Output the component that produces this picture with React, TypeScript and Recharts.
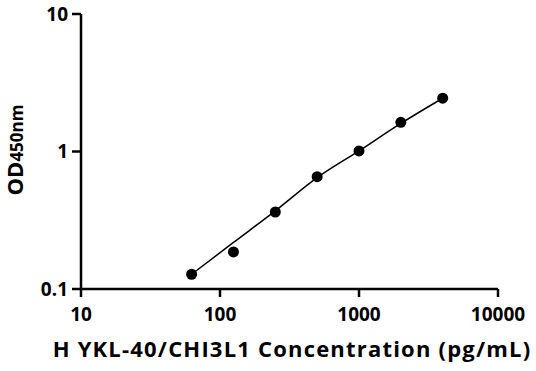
import { ComposedChart, Scatter, Line, XAxis, YAxis } from 'recharts';

// standard concentrations (pg/mL) and measured OD450
const concentrations = [62.5, 125, 250, 500, 1000, 2000, 4000];
const odValues = [0.128, 0.186, 0.363, 0.656, 1.01, 1.63, 2.44];

// fitted curve at the same concentrations
const fitConcentrations = [62.5, 125, 250, 500, 1000, 2000, 4000];
const fitValues = [0.128, 0.218, 0.37, 0.645, 1.01, 1.6, 2.44];

const xTicks = [10, 100, 1000, 10000];
const yTicks = [0.1, 1, 10];

const points = concentrations.map((x, i) => ({ x, y: odValues[i] }));
const fit = fitConcentrations.map((x, i) => ({ x, fy: fitValues[i] }));

const FONT = '"Open Sans", "Noto Sans", sans-serif';

const Dot = (props: any) => <circle cx={props.cx} cy={props.cy} r={5.5} fill="#000" />;

export default function App() {
  return (
    <div style={{ position: 'absolute', left: 0, top: 0, background: '#fff' }}>
      <ComposedChart width={536} height={371} margin={{ top: 14, right: 38, bottom: 42, left: 21 }}>
        <XAxis
          dataKey="x"
          type="number"
          scale="log"
          domain={[10, 10000]}
          ticks={xTicks}
          allowDataOverflow
          stroke="#000"
          strokeWidth={2.5}
          tickSize={8}
          tickMargin={11}
          tickLine={{ stroke: '#000', strokeWidth: 2.5 }}
          tick={{ fill: '#000', fontSize: 19, fontWeight: 700, fontFamily: FONT }}
          height={40}
        />
        <YAxis
          type="number"
          scale="log"
          domain={[0.1, 10]}
          ticks={yTicks}
          allowDataOverflow
          width={60}
          stroke="#000"
          strokeWidth={2.5}
          tickSize={9}
          tickMargin={4}
          tickLine={{ stroke: '#000', strokeWidth: 2.5 }}
          tick={{ fill: '#000', fontSize: 19, fontWeight: 700, fontFamily: FONT }}
        />
        <Line
          data={fit}
          dataKey="fy"
          type="monotone"
          stroke="#000"
          strokeWidth={1.5}
          dot={false}
          isAnimationActive={false}
        />
        <Scatter data={points} dataKey="y" fill="#000" shape={Dot} isAnimationActive={false} />
        <text
          x={292}
          y={357}
          textAnchor="middle"
          fontFamily={FONT}
          fontSize={22}
          fontWeight={700}
          letterSpacing={1.2}
          fill="#000"
        >
          H YKL-40/CHI3L1 Concentration (pg/mL)
        </text>
        <text
          x={0}
          y={0}
          transform="translate(23,150) rotate(-90)"
          textAnchor="middle"
          fontFamily={FONT}
          fontWeight={700}
          fill="#000"
        >
          <tspan fontSize={22}>OD</tspan>
          <tspan fontSize={17}>450nm</tspan>
        </text>
      </ComposedChart>
    </div>
  );
}
